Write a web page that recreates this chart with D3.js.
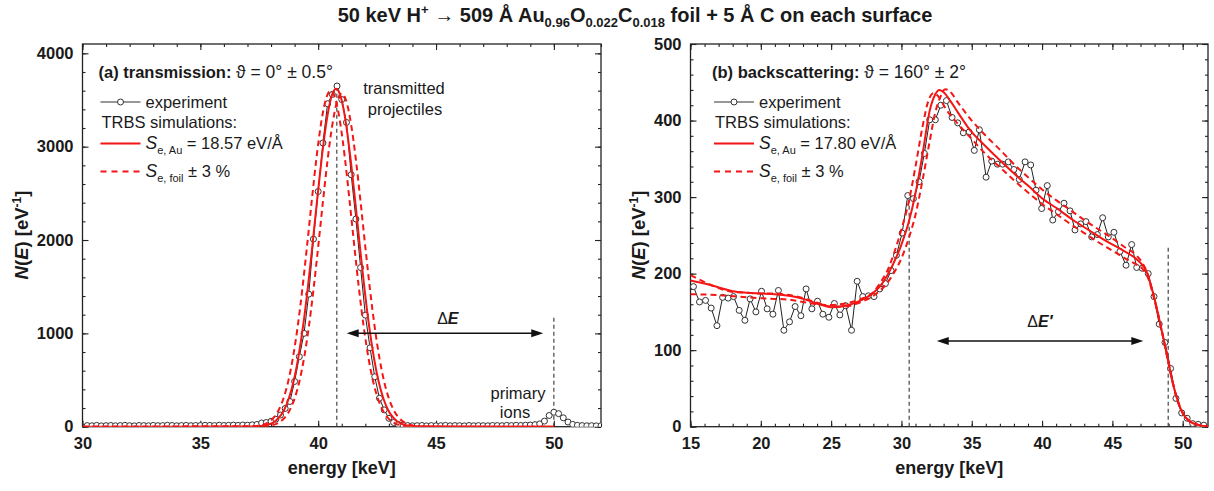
<!DOCTYPE html>
<html>
<head>
<meta charset="utf-8">
<script src="https://cdn.jsdelivr.net/npm/d3@7"></script>
<style>
body { margin: 0; background: #fff; }
text { font-family: "Liberation Sans", Arial, sans-serif; fill: #1a1a1a; }
</style>
</head>
<body>
<div id="chart"></div>
<script>
// ---- (a) transmission: experiment, energy [keV] / counts
var expAEnergy = [30.2,30.4,30.6,30.8,31.0,31.2,31.4,31.6,31.8,32.0,32.2,32.4,32.6,32.8,33.0,33.2,33.4,33.6,33.8,34.0,
  34.2,34.4,34.6,34.8,35.0,35.2,35.4,35.6,35.8,36.0,36.2,36.4,36.6,36.8,37.0,37.2,37.4,37.6,37.8,38.0,
  38.2,38.4,38.6,38.8,39.0,39.2,39.4,39.6,39.8,40.0,40.2,40.4,40.6,40.8,41.0,41.2,41.4,41.6,41.8,42.0,
  42.2,42.4,42.6,42.8,43.0,43.2,43.4,43.6,43.8,44.0,44.2,44.4,44.6,44.8,45.0,45.2,45.4,45.6,45.8,46.0,
  46.2,46.4,46.6,46.8,47.0,47.2,47.4,47.6,47.8,48.0,48.2,48.4,48.6,48.8,49.0,49.2,49.4,49.6,49.8,50.0,
  50.2,50.4,50.6,50.8,51.0,51.2,51.4,51.6,51.8,52.0];
var expACounts = [12,10,14,9,11,13,10,12,15,11,9,13,12,10,14,11,12,15,13,10,
  12,14,11,13,12,15,14,12,16,13,15,17,14,18,16,20,24,40,45,58,
  80,125,195,270,485,750,1000,1420,2010,2520,3040,3460,3560,3650,3505,3260,2700,2225,1705,1195,
  845,535,305,180,90,45,25,18,12,10,11,13,9,12,10,11,14,10,12,11,
  9,13,10,12,11,10,13,12,11,14,12,15,13,16,18,22,30,60,120,155,
  140,95,50,25,15,12,10,11,9,10];

// ---- (a) TRBS simulations [energy, counts]
var simAAu = [[30.0,0],[37.2,2],[37.56,7],[37.76,14],[37.96,29],[38.16,56],[38.36,104],[38.56,182],[38.76,307],[38.96,489],
  [39.16,746],[39.36,1079],[39.56,1488],[39.76,1953],[39.96,2440],[40.16,2900],[40.36,3280],[40.56,3532],[40.76,3620],
  [40.96,3532],[41.16,3280],[41.36,2900],[41.56,2440],[41.76,1953],[41.96,1488],[42.16,1079],[42.36,746],[42.56,489],
  [42.76,307],[42.96,182],[43.16,104],[43.36,56],[43.56,29],[43.76,14],[43.96,7],[44.4,1],[50.0,0]];
var simAPlus = [[30.0,0],[37.0,2],[37.33,6],[37.53,14],[37.73,28],[37.93,55],[38.13,103],[38.33,181],[38.53,305],[38.73,486],
  [38.93,742],[39.13,1073],[39.33,1480],[39.53,1942],[39.73,2426],[39.93,2884],[40.13,3262],[40.33,3512],[40.53,3600],
  [40.73,3512],[40.93,3262],[41.13,2884],[41.33,2426],[41.53,1942],[41.73,1480],[41.93,1073],[42.13,742],[42.33,486],
  [42.53,305],[42.73,181],[42.93,103],[43.13,55],[43.33,28],[43.53,14],[43.73,6],[44.2,1],[50.0,0]];
var simAMinus = [[30.0,0],[37.4,2],[37.8,6],[38.0,14],[38.2,28],[38.4,55],[38.6,102],[38.8,180],[39.0,302],[39.2,482],
  [39.4,735],[39.6,1064],[39.8,1467],[40.0,1926],[40.2,2406],[40.4,2860],[40.6,3234],[40.8,3483],[41.0,3570],
  [41.2,3483],[41.4,3234],[41.6,2860],[41.8,2406],[42.0,1926],[42.2,1467],[42.4,1064],[42.6,735],[42.8,482],
  [43.0,302],[43.2,180],[43.4,102],[43.6,55],[43.8,28],[44.0,14],[44.2,6],[44.6,1],[50.0,0]];

// ---- (b) backscattering: experiment
var expBEnergy = [15.21,15.64,16.07,16.47,16.88,17.28,17.68,18.06,18.46,18.87,19.24,19.65,20.05,20.45,20.86,21.25,21.64,22.04,22.44,22.85,
  23.22,23.63,24.03,24.41,24.84,25.23,25.62,26.04,26.45,26.85,27.25,27.65,28.05,28.46,28.86,29.26,29.64,30.05,30.45,30.85,
  31.25,31.63,32.01,32.41,32.8,33.2,33.6,34.0,34.4,34.81,35.18,35.54,36.02,36.42,36.82,37.2,37.6,38.0,38.38,38.79,
  39.19,39.57,39.97,40.37,40.76,41.16,41.56,41.99,42.34,42.75,43.12,43.53,43.93,44.31,44.71,45.11,45.54,45.97,46.37,46.73,
  47.12,47.55,47.96,48.33,48.74,49.14,49.52,49.93,50.32,50.71,51.1,51.5];
var expBCounts = [183,163,165,155,132,169,168,170,152,139,167,150,177,154,147,178,126,137,157,145,
  180,154,164,147,143,161,146,158,126,190,170,171,170,180,187,204,224,253,302,298,
  320,357,401,401,420,426,404,397,384,385,361,388,326,347,343,343,346,336,323,346,
  342,309,285,315,270,281,292,282,257,265,268,248,251,273,248,254,229,211,238,208,
  207,200,170,134,110,76,37,18,11,4,3,2];

// ---- (b) TRBS simulations [energy, counts]
var simBAu = [[15,191],[16,187],[17,182],[18,177],[19,175],[20,174],[21,173],[22,171],[23,167],[24,161],[25,156],[26,158],
  [27,164],[28,175],[28.5,184],[29,198],[29.5,216],[30,238],[30.5,266],[31,305],[31.5,356],[32,412],[32.4,434],[32.7,440],
  [33,437],[33.5,425],[34,411],[34.9,387],[36,366],[37,348],[38.3,326],[39,315],[40.1,297],[41,286],[42.2,270],[43.4,256],
  [44.6,242],[45.6,232],[46.5,222],[47,214],[47.4,204],[47.9,174],[48.4,135],[48.9,92],[49.3,57],[49.8,26],[50.5,7],
  [51.2,2],[51.8,0]];
var simBPlus = [[15,173],[17,172],[19,169],[21,167],[22,166],[23,163],[24,160],[25,159],[26,161],[27,166],[28,176],
  [28.5,188],[29,204],[29.5,228],[30,258],[30.5,292],[31,340],[31.5,392],[31.9,425],[32.3,436],[32.6,432],[33.2,414],
  [34,396],[35,376],[36,356],[37,339],[38,322],[39,306],[40,291],[41,278],[42,265],[43,253],[44,241],[45,230],[46,219],
  [46.7,212],[47.2,205],[47.5,196],[47.9,172],[48.4,134],[48.9,91],[49.3,57],[49.8,26],[50.5,7],[51.2,2],[51.8,0]];
var simBMinus = [[15,198],[16,189],[17,181],[17.5,178],[18,176],[19,175],[20,174],[21,174],[22,172],[23,168],[24,162],
  [25,157],[26,157],[27,162],[28,171],[28.5,178],[29,188],[29.5,202],[30,220],[30.5,245],[31,277],[31.5,322],[32,372],
  [32.4,410],[32.8,432],[33.1,441],[33.4,439],[34,424],[35,400],[36,380],[37,362],[38,343],[39,326],[40,310],[41,296],
  [42,283],[43,270],[44,258],[45,246],[46,233],[46.7,224],[47.2,212],[47.5,200],[47.9,174],[48.4,135],[48.9,92],
  [49.3,57],[49.8,26],[50.5,7],[51.2,2],[51.8,0]];

// vertical guide lines [energy, top counts] and arrows [from, to, counts]
var guidesA = [[40.79, 3650], [50.0, 1200]];
var guidesB = [[30.55, 300], [48.97, 237]];
var arrowA = [41.21, 49.55, 1000];
var arrowB = [32.51, 47.2, 112];

var xTicksA = [30, 35, 40, 45, 50];
var yTicksA = [0, 1000, 2000, 3000, 4000];
var xTicksB = [15, 20, 25, 30, 35, 40, 45, 50];
var yTicksB = [0, 100, 200, 300, 400, 500];

var svgWidth = 1214, svgHeight = 491;
var red = "#f41515";
var svg = d3.select("#chart").append("svg").attr("width", svgWidth).attr("height", svgHeight);

// title
var title = svg.append("text").attr("x", 635).attr("y", 22).attr("text-anchor", "middle")
  .attr("font-size", 20).attr("font-weight", "bold");
title.append("tspan").text("50 keV H");
title.append("tspan").attr("font-size", 13).attr("dy", -8).text("+");
title.append("tspan").attr("dy", 8).text(" \u2192 509 \u00c5 Au");
title.append("tspan").attr("font-size", 13).attr("dy", 5).text("0.96");
title.append("tspan").attr("dy", -5).text("O");
title.append("tspan").attr("font-size", 13).attr("dy", 5).text("0.022");
title.append("tspan").attr("dy", -5).text("C");
title.append("tspan").attr("font-size", 13).attr("dy", 5).text("0.018");
title.append("tspan").attr("dy", -5).text(" foil + 5 \u00c5 C on each surface");

function drawPanel(p) {
  var x = d3.scaleLinear().domain(p.xDomain).range(p.xRange);
  var y = d3.scaleLinear().domain(p.yDomain).range([426.7, 44]);
  var g = svg.append("g");
  var x0 = p.xRange[0], x1 = p.xRange[1], yb = 426.7, yt = 44;

  g.append("clipPath").attr("id", p.id).append("rect")
    .attr("x", x0).attr("y", yt).attr("width", x1 - x0).attr("height", yb - yt);

  // axes, ticks pointing inward on all four sides
  function ax(axis, tr, size, vals, labels, pad) {
    var a = g.append("g").attr("transform", tr)
      .call(axis.tickValues(vals).tickSizeInner(size).tickSizeOuter(0).tickPadding(pad || 3)
        .tickFormat(labels ? d3.format("d") : ""));
    a.select(".domain").remove();
    a.selectAll("line").attr("stroke", "#222").attr("stroke-width", 1.1);
    a.selectAll("text").attr("font-size", 16.5).attr("font-weight", "bold").attr("fill", "#1a1a1a")
      .attr("font-family", "Liberation Sans, Arial, sans-serif");
    return a;
  }
  var xMinor = d3.range(p.xDomain[0], p.xDomain[1] + 0.001, 1);
  var yMinor = d3.range(0, p.yDomain[1] + 0.001, p.yMinor);
  ax(d3.axisBottom(x), "translate(0," + yb + ")", -3, xMinor, false);
  ax(d3.axisBottom(x), "translate(0," + yb + ")", -6, p.xTicks, true, 11);
  ax(d3.axisTop(x), "translate(0," + yt + ")", -3, xMinor, false);
  ax(d3.axisTop(x), "translate(0," + yt + ")", -6, p.xTicks, false);
  ax(d3.axisLeft(y), "translate(" + x0 + ",0)", -3, yMinor, false);
  ax(d3.axisLeft(y), "translate(" + x0 + ",0)", -6, p.yTicks, true, 9);
  ax(d3.axisRight(y), "translate(" + x1 + ",0)", -3, yMinor, false);
  ax(d3.axisRight(y), "translate(" + x1 + ",0)", -6, p.yTicks, false);

  g.append("rect").attr("x", x0).attr("y", yt).attr("width", x1 - x0).attr("height", yb - yt)
    .attr("fill", "none").attr("stroke", "#222").attr("stroke-width", 1.3);

  var plot = g.append("g").attr("clip-path", "url(#" + p.id + ")");

  // guide lines
  plot.selectAll("line.guide").data(p.guides).enter().append("line")
    .attr("x1", d => x(d[0])).attr("x2", d => x(d[0]))
    .attr("y1", y(0)).attr("y2", d => y(d[1]))
    .attr("stroke", "#444").attr("stroke-width", 1.2).attr("stroke-dasharray", "4,3");

  // experiment
  var expData = p.expE.map((e, i) => [e, p.expN[i]]);
  var line = d3.line().x(d => x(d[0])).y(d => y(d[1]));
  plot.append("path").datum(expData).attr("d", line)
    .attr("fill", "none").attr("stroke", "#222").attr("stroke-width", 1);
  plot.selectAll("circle.exp").data(expData).enter().append("circle")
    .attr("cx", d => x(d[0])).attr("cy", d => y(d[1])).attr("r", 3)
    .attr("fill", "#fff").attr("stroke", "#333").attr("stroke-width", 1);

  // simulations
  var sline = d3.line().x(d => x(d[0])).y(d => y(d[1])).curve(d3.curveMonotoneX);
  [p.simPlus, p.simMinus].forEach(function(s) {
    plot.append("path").datum(s).attr("d", sline).attr("fill", "none")
      .attr("stroke", red).attr("stroke-width", 2).attr("stroke-dasharray", "6,4");
  });
  plot.append("path").datum(p.simAu).attr("d", sline).attr("fill", "none")
    .attr("stroke", red).attr("stroke-width", 2);

  // arrow
  var ay = y(p.arrow[2]), ax1 = x(p.arrow[0]), ax2 = x(p.arrow[1]);
  g.append("line").attr("x1", ax1 + 8).attr("x2", ax2 - 8).attr("y1", ay).attr("y2", ay)
    .attr("stroke", "#111").attr("stroke-width", 1.5);
  g.append("path").attr("d", "M" + ax1 + "," + ay + "l12,-4l0,8z").attr("fill", "#111");
  g.append("path").attr("d", "M" + ax2 + "," + ay + "l-12,-4l0,8z").attr("fill", "#111");
  var dl = g.append("text").attr("x", x(p.deltaPos[0])).attr("y", y(p.deltaPos[1]))
    .attr("text-anchor", "middle").attr("font-size", 16);
  dl.append("tspan").text("\u0394");
  dl.append("tspan").attr("font-style", "italic").attr("font-weight", "bold").text(p.deltaLabel);

  // panel heading
  var h = g.append("text").attr("x", p.lx - 2).attr("y", 78).attr("font-size", 16.5);
  h.append("tspan").attr("font-weight", "bold").text(p.heading);
  h.append("tspan").attr("font-size", 17.5).text(p.angle);

  // legend
  var lx = p.lx;
  g.append("line").attr("x1", lx).attr("x2", lx + 40).attr("y1", 102).attr("y2", 102)
    .attr("stroke", "#333").attr("stroke-width", 1.2);
  g.append("circle").attr("cx", lx + 20).attr("cy", 102).attr("r", 3)
    .attr("fill", "#fff").attr("stroke", "#333");
  g.append("text").attr("x", lx + 45).attr("y", 108).attr("font-size", 16.5).text("experiment");
  g.append("text").attr("x", lx + 1).attr("y", 128).attr("font-size", 16.5).text("TRBS simulations:");
  g.append("line").attr("x1", lx).attr("x2", lx + 40).attr("y1", 143.5).attr("y2", 143.5)
    .attr("stroke", red).attr("stroke-width", 2);
  g.append("line").attr("x1", lx).attr("x2", lx + 40).attr("y1", 171.5).attr("y2", 171.5)
    .attr("stroke", red).attr("stroke-width", 2).attr("stroke-dasharray", "6,5");
  var s1 = g.append("text").attr("x", lx + 45).attr("y", 149).attr("font-size", 16.5);
  s1.append("tspan").attr("font-style", "italic").attr("font-size", 17.5).text("S");
  s1.append("tspan").attr("font-size", 11).attr("dy", 5).text("e, Au");
  s1.append("tspan").attr("dy", -5).text(" = " + p.stopping + " eV/\u00c5");
  var s2 = g.append("text").attr("x", lx + 45).attr("y", 177).attr("font-size", 16.5);
  s2.append("tspan").attr("font-style", "italic").attr("font-size", 17.5).text("S");
  s2.append("tspan").attr("font-size", 11).attr("dy", 5).text("e, foil");
  s2.append("tspan").attr("dy", -5).text(" \u00b1 3 %");

  // axis titles
  g.append("text").attr("x", (x0 + x1) / 2).attr("y", 474).attr("text-anchor", "middle")
    .attr("font-size", 18).attr("font-weight", "bold").text("energy [keV]");
  var yl = g.append("text").attr("transform", "translate(" + p.ylx + ",235) rotate(-90)")
    .attr("text-anchor", "middle").attr("font-size", 18.5).attr("font-weight", "bold");
  yl.append("tspan").attr("font-style", "italic").text("N");
  yl.append("tspan").text("(");
  yl.append("tspan").attr("font-style", "italic").text("E");
  yl.append("tspan").text(") [eV");
  yl.append("tspan").attr("font-size", 12).attr("dy", -7).text("-1");
  yl.append("tspan").attr("dy", 7).text("]");
  return g;
}

var gA = drawPanel({
  id: "clipA", xDomain: [30, 52], xRange: [82.5, 601], yDomain: [0, 4100], yMinor: 200,
  xTicks: xTicksA, yTicks: yTicksA, expE: expAEnergy, expN: expACounts,
  simAu: simAAu, simPlus: simAPlus, simMinus: simAMinus, guides: guidesA, arrow: arrowA,
  deltaLabel: "E", deltaPos: [45.5, 1100], lx: 100.5, heading: "(a) transmission: ",
  angle: "\u03d1 = 0\u00b0 \u00b1 0.5\u00b0", stopping: "18.57", ylx: 28
});
var gB = drawPanel({
  id: "clipB", xDomain: [15, 51.8], xRange: [690.5, 1208], yDomain: [0, 500], yMinor: 20,
  xTicks: xTicksB, yTicks: yTicksB, expE: expBEnergy, expN: expBCounts,
  simAu: simBAu, simPlus: simBPlus, simMinus: simBMinus, guides: guidesB, arrow: arrowB,
  deltaLabel: "E\u2032", deltaPos: [39.85, 130], lx: 714, heading: "(b) backscattering: ",
  angle: "\u03d1 = 160\u00b0 \u00b1 2\u00b0", stopping: "17.80", ylx: 645
});

// annotations in panel (a)
gA.append("text").attr("x", 404).attr("y", 94).attr("text-anchor", "middle").attr("font-size", 16.5).text("transmitted");
gA.append("text").attr("x", 405).attr("y", 115).attr("text-anchor", "middle").attr("font-size", 16.5).text("projectiles");
gA.append("text").attr("x", 518).attr("y", 399).attr("text-anchor", "middle").attr("font-size", 16.5).text("primary");
gA.append("text").attr("x", 515).attr("y", 418).attr("text-anchor", "middle").attr("font-size", 16.5).text("ions");
</script>
</body>
</html>
